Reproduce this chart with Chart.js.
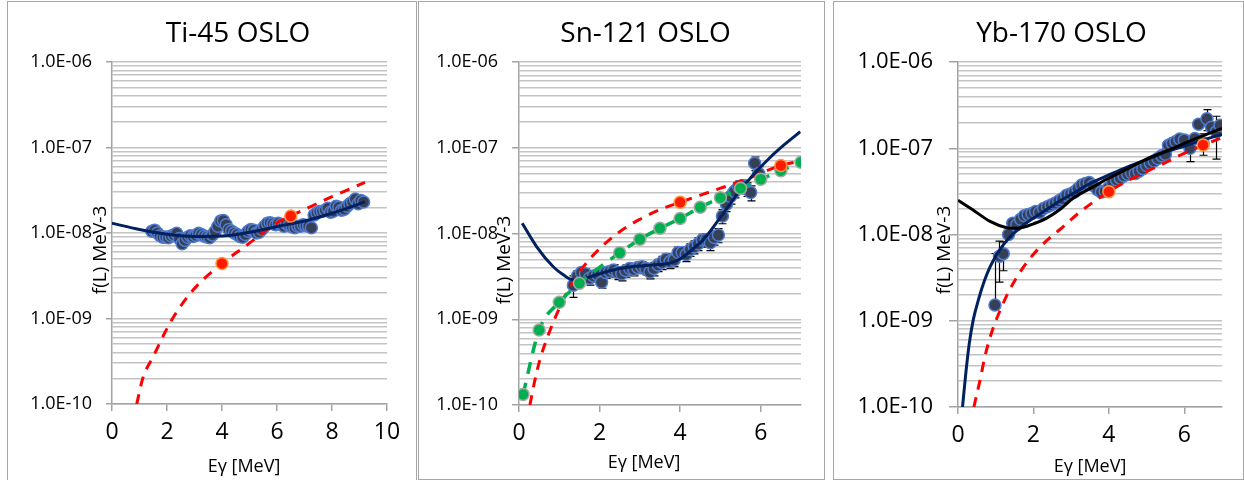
<!DOCTYPE html>
<html>
<head>
<meta charset="utf-8">
<script src="https://cdn.jsdelivr.net/npm/chart.js@4.4.1/dist/chart.umd.min.js"></script>
<style>
  body { margin: 0; background: #fff; width: 1244px; height: 480px; position: relative; overflow: hidden; }
  .frame { position: absolute; top: 1px; border: 1px solid #a6a6a6; box-sizing: border-box; }
  canvas { position: absolute; top: 2px; }
</style>
</head>
<body>
<div class="frame" style="left:7px;width:410px;height:484px"></div>
<div class="frame" style="left:418px;width:407px;height:479px"></div>
<div class="frame" style="left:833px;width:411px;height:479px"></div>
<canvas id="ti45" width="408" height="476" style="left:8px"></canvas>
<canvas id="sn121" width="405" height="476" style="left:419px"></canvas>
<canvas id="yb170" width="409" height="476" style="left:834px"></canvas>

<script>
    // axis ticks
    let yTickValues = [1e-10, 1e-9, 1e-8, 1e-7, 1e-6];
    let yTickLabels = ['1.0E-10', '1.0E-09', '1.0E-08', '1.0E-07', '1.0E-06'];
    let xTicksTi = [0, 2, 4, 6, 8, 10];
    let xTicksSnYb = [0, 2, 4, 6];

    // ---- Ti-45 ----
    let tiPtsE = [1.45,1.55,1.65,1.75,1.85,1.95,2.05,2.15,2.25,2.35,
                  2.45,2.55,2.65,2.75,2.85,2.95,3.05,3.15,3.25,3.35,
                  3.45,3.55,3.65,3.75,3.85,3.95,4.05,4.15,4.25,4.35,
                  4.45,4.55,4.65,4.75,4.85,4.95,5.05,5.15,5.25,5.35,
                  5.45,5.55,5.65,5.75,5.85,5.95,6.05,6.15,6.25,6.35,
                  6.45,6.55,6.65,6.75,6.85,6.95,7.05,7.15,7.25,7.35,
                  7.45,7.55,7.65,7.75,7.85,7.95,8.05,8.15,8.25,8.35,
                  8.45,8.55,8.65,8.75,8.85,8.95,9.05,9.15];
    let tiPtsF = [1.05e-8,1.08e-8,1.0e-8,9.3e-9,8.9e-9,9.0e-9,8.8e-9,9.2e-9,9.5e-9,9.9e-9,
                  8.6e-9,7.5e-9,8.2e-9,8.9e-9,9.3e-9,9.1e-9,9.4e-9,9.9e-9,9.6e-9,9.2e-9,
                  9.0e-9,8.8e-9,9.5e-9,1.05e-8,1.2e-8,1.38e-8,1.4e-8,1.25e-8,1.1e-8,1.05e-8,
                  1.0e-8,9.6e-9,9.1e-9,8.9e-9,9.6e-9,1.05e-8,1.1e-8,1.08e-8,1.0e-8,1.02e-8,
                  1.1e-8,1.2e-8,1.3e-8,1.32e-8,1.28e-8,1.25e-8,1.3e-8,1.25e-8,1.2e-8,1.28e-8,
                  1.22e-8,1.18e-8,1.15e-8,1.2e-8,1.2e-8,1.25e-8,1.22e-8,1.2e-8,1.15e-8,1.62e-8,
                  1.72e-8,1.78e-8,1.8e-8,1.85e-8,1.95e-8,1.75e-8,1.8e-8,2.05e-8,2.0e-8,1.85e-8,
                  1.9e-8,2.05e-8,2.2e-8,2.3e-8,2.5e-8,2.2e-8,2.4e-8,2.3e-8];
    let tiFitE = [0, 1, 2, 3, 4, 5, 6, 7, 8, 9, 9.2];
    let tiFitF = [1.3e-8, 1.1e-8, 9.66e-9, 9.1e-9, 9.2e-9, 1.02e-8, 1.19e-8, 1.38e-8, 1.7e-8, 2.19e-8, 2.32e-8];
    let tiRedE = [0.9, 1.12, 1.5, 2.17, 2.95, 4.0, 4.9, 6.0, 6.5, 8.0, 9.2];
    let tiRedF = [1.0e-10, 2.0e-10, 3.6e-10, 9.6e-10, 2.15e-9, 4.4e-9, 7.2e-9, 1.32e-8, 1.58e-8, 2.66e-8, 3.9e-8];
    let tiDotE = [4.0, 6.5];
    let tiDotF = [4.4e-9, 1.58e-8];

    // ---- Sn-121 ----
    let snPtsE = [1.35,1.45,1.55,1.65,1.75,1.85,1.95,2.05,2.15,2.25,
                  2.35,2.45,2.55,2.65,2.75,2.85,2.95,3.05,3.15,3.25,
                  3.35,3.45,3.55,3.65,3.75,3.85,3.95,4.05,4.15,4.25,
                  4.35,4.45,4.55,4.65,4.75,4.85,4.95,5.05,5.15,5.25,
                  5.35,5.45,5.55,5.65,5.75,5.85,5.95];
    let snPtsF = [2.5e-9,3.2e-9,3.5e-9,3.4e-9,3.0e-9,3.2e-9,3.3e-9,2.7e-9,3.5e-9,3.6e-9,
                  3.75e-9,3.5e-9,3.4e-9,3.7e-9,3.9e-9,3.8e-9,4.0e-9,4.1e-9,3.9e-9,3.55e-9,
                  3.9e-9,4.3e-9,4.6e-9,5.0e-9,4.7e-9,4.9e-9,6.0e-9,6.0e-9,5.7e-9,6.5e-9,
                  7.0e-9,7.6e-9,8.4e-9,8.5e-9,7.8e-9,9.0e-9,9.6e-9,1.6e-8,2.2e-8,2.7e-8,
                  3.1e-8,3.5e-8,3.6e-8,3.3e-8,3.0e-8,6.6e-8,5.0e-8];
    let snPtsErr = [0.7e-9,0.5e-9,0.5e-9,0.5e-9,0.5e-9,0.5e-9,0.5e-9,0.4e-9,0.5e-9,0.5e-9,
                    0.6e-9,0.6e-9,0.6e-9,0.6e-9,0.6e-9,0.6e-9,0.6e-9,0.6e-9,0.6e-9,0.6e-9,
                    0.7e-9,0.7e-9,0.8e-9,0.8e-9,0.8e-9,0.8e-9,1.0e-9,1.0e-9,1.0e-9,1.1e-9,
                    1.2e-9,1.3e-9,1.4e-9,1.5e-9,1.5e-9,1.7e-9,1.8e-9,3e-9,4e-9,5e-9,
                    5e-9,6e-9,6e-9,6e-9,6e-9,1.2e-8,1e-8];
    let snFitE = [0.08,0.44,0.85,1.1,1.3,1.47,1.7,2.09,2.5,2.92,3.3,3.74,4.07,4.3,4.57,4.98,5.4,5.81,6.22,6.6,6.98];
    let snFitF = [1.32e-8,7.0e-9,4.1e-9,3.3e-9,2.9e-9,2.87e-9,3.05e-9,3.5e-9,3.9e-9,4.15e-9,4.3e-9,4.5e-9,5.3e-9,6.5e-9,8.4e-9,1.5e-8,2.8e-8,4.8e-8,7.6e-8,1.1e-7,1.54e-7];
    let snRedE = [0.27,0.4,0.52,0.75,0.98,1.2,1.47,1.75,2.05,2.5,2.96,3.5,4.0,4.86,5.69,6.47,6.85];
    let snRedF = [1.0e-10,2.0e-10,3.4e-10,7.0e-10,1.28e-9,2.1e-9,3.4e-9,5.0e-9,7.0e-9,1.05e-8,1.43e-8,1.9e-8,2.31e-8,3.2e-8,4.4e-8,6.15e-8,6.8e-8];
    let snDotE = [4.0, 6.5];
    let snDotF = [2.31e-8, 6.2e-8];
    let snGreenE = [0.1,0.5,1.0,1.5,2.5,3.0,3.5,4.0,4.5,5.0,5.5,6.0,6.5,7.0];
    let snGreenF = [1.33e-10,7.5e-10,1.58e-9,2.63e-9,5.97e-9,8.55e-9,1.15e-8,1.5e-8,2.02e-8,2.62e-8,3.37e-8,4.29e-8,5.4e-8,6.77e-8];

    // ---- Yb-170 ----
    let ybPtsE = [0.98,1.10,1.20,1.34,1.45,1.56,1.66,1.76,1.86,1.96,
                  2.06,2.16,2.27,2.37,2.47,2.57,2.67,2.77,2.88,2.98,
                  3.08,3.18,3.28,3.38,3.48,3.58,3.70,3.80,3.90,4.00,
                  4.10,4.20,4.30,4.40,4.50,4.60,4.70,4.80,4.90,5.00,
                  5.10,5.20,5.30,5.40,5.50,5.58,5.68,5.78,5.88,6.00,
                  6.15,6.28,6.38,6.50,6.60,6.72,6.85,6.95];
    let ybPtsF = [1.52e-9,5.6e-9,6.0e-9,1.0e-8,1.35e-8,1.3e-8,1.5e-8,1.65e-8,1.7e-8,1.75e-8,
                  1.85e-8,1.8e-8,2.0e-8,2.1e-8,2.2e-8,2.3e-8,2.45e-8,2.6e-8,2.85e-8,2.95e-8,
                  3.1e-8,3.4e-8,3.75e-8,3.9e-8,4.0e-8,3.7e-8,3.3e-8,3.1e-8,3.2e-8,3.5e-8,
                  4.0e-8,4.3e-8,4.5e-8,4.8e-8,5.0e-8,5.2e-8,5.1e-8,5.4e-8,5.8e-8,6.3e-8,
                  6.7e-8,7.1e-8,7.6e-8,8.2e-8,8.5e-8,1.08e-7,1.14e-7,1.2e-7,1.28e-7,1.25e-7,
                  1.0e-7,1.3e-7,1.9e-7,1.15e-7,2.2e-7,1.75e-7,1.55e-7,1.85e-7];
    let ybPtsErr = [4.5e-9,2.8e-9,2.2e-9,0,0,0,0,0,0,0,
                    0,0,0,0,0,0,0,0,0,0,
                    0,0,0,0,0,0,0,0,0,0,
                    0,0,0,0,0,0,0,0,0,0,
                    0,0,0,0,0,0,0,0,0,0,
                    3e-8,0,0,3.2e-8,6e-8,0,8e-8,0];
    let ybFitE = [0.12,0.2,0.3,0.41,0.55,0.7,0.85,1.0,1.2,1.4,1.6,1.8,2.0,2.35,2.7,3.06,3.5,4.0,4.5,5.0,5.5,6.0,6.5,7.0];
    let ybFitF = [1.0e-10,2.3e-10,5.5e-10,1.05e-9,1.8e-9,2.9e-9,4.2e-9,5.6e-9,7.6e-9,9.6e-9,1.15e-8,1.35e-8,1.55e-8,1.95e-8,2.45e-8,3.0e-8,3.9e-8,4.9e-8,6.1e-8,7.4e-8,9.0e-8,1.06e-7,1.25e-7,1.45e-7];
    let ybBlackE = [0,0.4,0.85,1.29,1.5,1.73,2.0,2.35,2.7,3.06,3.5,3.95,4.5,5.0,5.5,6.0,6.5,7.0];
    let ybBlackF = [2.5e-8,1.92e-8,1.42e-8,1.2e-8,1.18e-8,1.21e-8,1.33e-8,1.55e-8,1.95e-8,2.65e-8,3.4e-8,4.4e-8,5.8e-8,7.5e-8,9.2e-8,1.14e-7,1.4e-7,1.7e-7];
    let ybRedE = [0.42,0.6,0.71,0.9,1.12,1.35,1.56,1.85,2.18,2.44,2.71,3.19,3.6,4.0,4.5,5.01,5.5,5.89,6.5,6.95];
    let ybRedF = [1.0e-10,2.2e-10,3.8e-10,7.5e-10,1.33e-9,2.2e-9,3.2e-9,4.9e-9,7.2e-9,9.2e-9,1.15e-8,1.76e-8,2.4e-8,3.14e-8,4.2e-8,5.4e-8,6.8e-8,8.3e-8,1.09e-7,1.3e-7];
    let ybDotE = [4.0, 6.5];
    let ybDotF = [3.14e-8, 1.09e-7];

    const FONT = 'Open Sans';
    const GRID = '#c4c4c4';
    const AXIS = '#a3a3a3';

    // all gridline values of the log axis (1..9 per decade)
    let yGrid = [];
    for (let n = -10; n < -6; n++) {
        for (let k = 1; k <= 9; k++) yGrid.push(Number((k * Math.pow(10, n)).toPrecision(3)));
    }
    yGrid.push(1e-6);

    function majorIndex(v) {
        return yTickValues.findIndex(t => Math.abs(Math.log10(v) - Math.log10(t)) < 1e-6);
    }

    function pts(E, F) {
        return E.map((e, i) => ({x: e, y: F[i]}));
    }

    function dots(E, F) {
        return {data: pts(E, F), showLine: false, pointRadius: 6, pointBorderWidth: 1.5,
                pointBackgroundColor: '#353f55', pointBorderColor: '#4f7bd0', order: 10};
    }

    function redDots(E, F) {
        return {data: pts(E, F), showLine: false, pointRadius: 6, pointBorderWidth: 1.5,
                pointBackgroundColor: '#ff1a00', pointBorderColor: '#ff9640', order: 1};
    }

    function curve(E, F, color, width, dash, order) {
        return {data: pts(E, F), showLine: true, fill: false, borderColor: color, borderWidth: width,
                borderDash: dash, pointRadius: 0, cubicInterpolationMode: 'monotone', order: order};
    }

    // vertical error bars, drawn under the markers
    function errorBars(E, F, D) {
        return {
            id: 'errorBars',
            beforeDatasetsDraw(chart) {
                if (!D) return;
                const xs = chart.scales.x, ys = chart.scales.y, c = chart.ctx;
                c.save();
                c.strokeStyle = '#000';
                c.lineWidth = 1.2;
                E.forEach((e, i) => {
                    if (!D[i]) return;
                    const px = Math.round(xs.getPixelForValue(e)) + 0.5;
                    const hi = ys.getPixelForValue(F[i] + D[i]);
                    const hasLo = F[i] - D[i] > 0;
                    const lo = ys.getPixelForValue(hasLo ? F[i] - D[i] : F[i]);
                    c.beginPath();
                    c.moveTo(px, hi); c.lineTo(px, lo);
                    c.moveTo(px - 4, hi); c.lineTo(px + 4, hi);
                    if (hasLo) { c.moveTo(px - 4, lo); c.lineTo(px + 4, lo); }
                    c.stroke();
                });
                c.restore();
            }
        };
    }

    // chart title and axis titles
    function panelText(t) {
        return {
            id: 'panelText',
            afterDraw(chart) {
                const c = chart.ctx;
                c.save();
                c.fillStyle = '#000';
                c.textAlign = 'center';
                c.textBaseline = 'alphabetic';
                c.font = `28px "${FONT}"`;
                c.fillText(t.title, t.titleX, 39.5);
                c.font = `18px "${FONT}"`;
                c.fillText('E\u03b3 [MeV]', t.xTitleX, t.xTitleY);
                c.translate(t.yTitleX, t.yTitleY);
                c.rotate(-Math.PI / 2);
                c.font = `19px "${FONT}"`;
                c.textBaseline = 'middle';
                c.fillText('f(L) MeV-3', 0, 0);
                c.restore();
            }
        };
    }

    function makePanel(id, cfg) {
        new Chart(document.getElementById(id), {
            type: 'scatter',
            data: {datasets: cfg.datasets},
            options: {
                responsive: false,
                animation: false,
                layout: {padding: {left: 0, right: cfg.padRight, top: 60, bottom: 0}},
                plugins: {legend: {display: false}, tooltip: {enabled: false}},
                scales: {
                    x: {
                        type: 'linear', min: 0, max: cfg.xMax,
                        afterBuildTicks: s => { s.ticks = cfg.xTicks.map(v => ({value: v})); },
                        afterFit: s => { s.height = cfg.xHeight; },
                        grid: {drawOnChartArea: false, drawTicks: true, tickLength: 7, color: AXIS, tickColor: AXIS, lineWidth: 1.5},
                        border: {display: true, color: AXIS, width: 1.5},
                        ticks: {color: '#000', font: {family: FONT, size: 23}, padding: 8, maxRotation: 0, autoSkip: false}
                    },
                    y: {
                        type: 'logarithmic', min: 1e-10, max: 1e-6,
                        afterBuildTicks: s => { s.ticks = yGrid.map(v => ({value: v})); },
                        afterFit: s => { s.width = cfg.yWidth; },
                        grid: {color: GRID, lineWidth: 1.5, drawTicks: true, tickLength: cfg.yTickLen,
                               tickColor: ctx => (ctx.tick && majorIndex(ctx.tick.value) >= 0) ? AXIS : 'rgba(0,0,0,0)'},
                        border: {display: true, color: AXIS, width: 1.5},
                        ticks: {color: '#000', font: {family: FONT, size: cfg.yFont}, padding: cfg.yPad, autoSkip: false,
                                callback: v => { const j = majorIndex(v); return j >= 0 ? yTickLabels[j] : ''; }}
                    }
                }
            },
            plugins: [errorBars(cfg.errE, cfg.errF, cfg.errD), panelText(cfg.text)]
        });
    }

    makePanel('ti45', {
        xMax: 10, xTicks: xTicksTi, xHeight: 74, yWidth: 104, padRight: 29,
        yTickLen: 6, yPad: 14, yFont: 18,
        text: {title: 'Ti-45 OSLO', titleX: 230, xTitleX: 236, xTitleY: 470, yTitleX: 93, yTitleY: 248},
        datasets: [
            dots(tiPtsE, tiPtsF),
            curve(tiRedE, tiRedF, '#ff0000', 3, [10, 8], 6),
            curve(tiFitE, tiFitF, '#002060', 3, [], 5),
            redDots(tiDotE, tiDotF)
        ]
    });

    let snGreen = curve(snGreenE, snGreenF, '#00b050', 3.5, [12, 9], 3);
    snGreen.pointRadius = 6;
    snGreen.pointBorderWidth = 1.5;
    snGreen.pointBackgroundColor = '#00b050';
    snGreen.pointBorderColor = '#a0aaa0';

    makePanel('sn121', {
        xMax: 7, xTicks: xTicksSnYb, xHeight: 73, yWidth: 100, padRight: 23,
        yTickLen: 7, yPad: 14, yFont: 18,
        errE: snPtsE, errF: snPtsF, errD: snPtsErr,
        text: {title: 'Sn-121 OSLO', titleX: 226.5, xTitleX: 225, xTitleY: 466, yTitleX: 86, yTitleY: 258},
        datasets: [
            dots(snPtsE, snPtsF),
            curve(snRedE, snRedF, '#ff0000', 3, [10, 8], 6),
            curve(snFitE, snFitF, '#002060', 3, [], 5),
            snGreen,
            redDots(snDotE, snDotF)
        ]
    });

    makePanel('yb170', {
        xMax: 7, xTicks: xTicksSnYb, xHeight: 71, yWidth: 124, padRight: 21,
        yTickLen: 9, yPad: 16, yFont: 22,
        errE: ybPtsE, errF: ybPtsF, errD: ybPtsErr,
        text: {title: 'Yb-170 OSLO', titleX: 227.5, xTitleX: 256, xTitleY: 470, yTitleX: 111, yTitleY: 248},
        datasets: [
            dots(ybPtsE, ybPtsF),
            curve(ybRedE, ybRedF, '#ff0000', 3, [10, 8], 6),
            curve(ybFitE, ybFitF, '#002060', 3, [], 5),
            curve(ybBlackE, ybBlackF, '#000000', 3, [], 4),
            redDots(ybDotE, ybDotF)
        ]
    });
</script>
</body>
</html>
